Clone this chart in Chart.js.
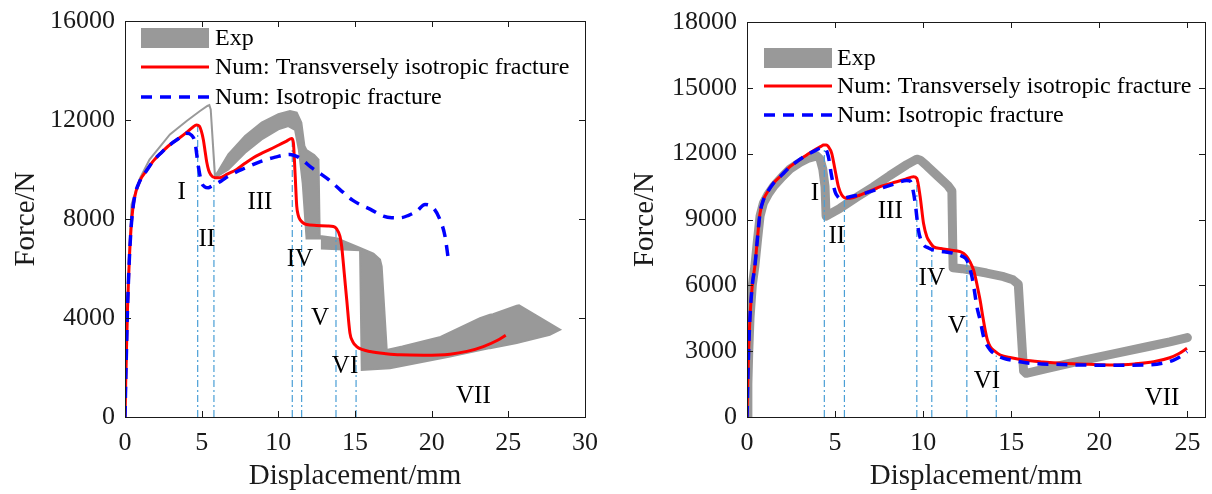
<!DOCTYPE html>
<html>
<head>
<meta charset="utf-8">
<script src="https://cdn.jsdelivr.net/npm/chart.js@4.4.0/dist/chart.umd.min.js"></script>
<style>
  html, body { margin: 0; padding: 0; background: #fff; }
  #wrap { position: relative; width: 1212px; height: 494px; }
  canvas { position: absolute; top: 0; }
</style>
</head>
<body>
<div id="wrap">
  <canvas id="left" width="600" height="494" style="left:0"></canvas>
  <canvas id="right" width="602" height="494" style="left:610px"></canvas>
</div>
<script>
// ---- data: [displacement mm, force N] ----

// left specimen
const leftXTicks = [0, 5, 10, 15, 20, 25, 30];
const leftYTicks = [0, 4000, 8000, 12000, 16000];

// experiment band outline (thin line up to the first drop, then the band)
const leftExp = [
  [0, 0], [0.1, 2800], [0.22, 5500], [0.43, 8600], [0.98, 9650], [1.6, 10400], [2.93, 11420],
  [4.02, 11960], [4.89, 12365], [5.37, 12567], [5.5, 12600], [5.59, 12430], [5.87, 9732],
  [6.09, 9935], [6.74, 10611], [7.83, 11352], [8.91, 11893], [10.0, 12231], [10.76, 12365],
  [11.2, 12300], [11.5, 11900], [11.7, 10950], [11.84, 10783], [12.34, 10581], [12.62, 10400],
  [12.7, 7300], [12.85, 7300], [13.8, 7220], [15.33, 6830], [16.2, 6601], [16.63, 6358],
  [16.74, 6087], [17.07, 2713], [18.09, 2850], [20.58, 3235], [23.15, 3997], [23.8, 4131],
  [24.0, 4150], [25.55, 4495], [25.7, 4515], [28.37, 3524],
  [27.7, 3321], [25.55, 2985], [23.8, 2782], [21.2, 2443], [17.28, 1972], [15.44, 1903],
  [15.33, 6740], [12.84, 6807], [12.84, 7211], [11.84, 7211], [11.59, 9435], [11.34, 10783],
  [11.09, 11600], [10.65, 11757], [10.0, 11623], [8.91, 11218], [7.83, 10680], [6.74, 10003],
  [5.87, 9665], [5.59, 12430], [5.5, 12600], [5.37, 12567], [4.89, 12365], [4.02, 11960],
  [2.93, 11420], [1.6, 10400], [0.98, 9650], [0.43, 8600], [0.22, 5500], [0.1, 2800], [0, 0]
];

const leftTrans = [
  [0, 0], [0.05, 1500], [0.1, 2800], [0.16, 4300], [0.22, 5400], [0.3, 6600], [0.43, 7900],
  [0.6, 8800], [0.98, 9550], [1.4, 9950], [1.85, 10350], [2.4, 10700], [2.93, 11000],
  [3.5, 11250], [4.02, 11500], [4.4, 11700], [4.67, 11800], [4.85, 11750], [4.98, 11550],
  [5.11, 11200], [5.22, 10750], [5.33, 10300], [5.45, 9980], [5.6, 9780], [5.87, 9665],
  [6.2, 9670], [6.7, 9820], [7.28, 10003], [7.8, 10240], [8.37, 10477], [8.9, 10650],
  [9.46, 10813], [10.0, 10980], [10.54, 11150], [10.87, 11250], [10.98, 11085], [11.09, 9870],
  [11.2, 8517], [11.3, 8150], [11.41, 7979], [11.6, 7850], [11.85, 7776], [12.5, 7740],
  [13.2, 7720], [13.59, 7700], [13.8, 7600], [14.02, 7300], [14.13, 6900], [14.3, 5800],
  [14.46, 4739], [14.67, 3390], [14.85, 3050], [15.11, 2847], [15.5, 2720], [15.98, 2645],
  [17.0, 2560], [17.93, 2511], [19.5, 2500], [21.2, 2540], [22.3, 2650], [23.37, 2847],
  [24.3, 3100], [24.83, 3300]
];

const leftIso = [
  [0, 0], [0.05, 1500], [0.1, 2800], [0.16, 4300], [0.22, 5400], [0.3, 6600], [0.43, 7900],
  [0.6, 8800], [0.98, 9550], [1.4, 9950], [1.85, 10350], [2.4, 10700], [2.93, 11000],
  [3.5, 11250], [4.02, 11460], [4.35, 11380], [4.57, 11085], [4.78, 10137], [5.0, 9465],
  [5.2, 9300], [5.43, 9262], [5.65, 9330], [5.87, 9400], [6.3, 9550], [6.74, 9732],
  [7.8, 10050], [8.91, 10340], [9.8, 10500], [10.76, 10611], [11.2, 10530], [11.52, 10409],
  [12.17, 10072], [12.7, 9850], [13.26, 9600], [14.0, 9200], [14.84, 8760], [15.33, 8586],
  [15.98, 8400], [16.85, 8112], [17.4, 8050], [17.93, 8047], [18.5, 8150], [19.02, 8315],
  [19.57, 8586], [20.1, 8452], [20.54, 7979], [20.87, 7302], [21.09, 6359]
];

const leftStageX = [4.74, 5.8, 10.91, 11.52, 13.76, 15.07];
const leftStageTop = [11790, 9650, 11250, 7900, 7600, 2870];
const leftRomanText = ['I', 'II', 'III', 'IV', 'V', 'VI', 'VII'];
const leftRomanX = [3.7, 5.33, 8.8, 11.41, 12.72, 14.35, 22.72];
const leftRomanF = [9060, 7170, 8655, 6360, 3997, 2038, 822];

// right specimen
const rightXTicks = [0, 5, 10, 15, 20, 25];
const rightYTicks = [0, 3000, 6000, 9000, 12000, 15000, 18000];

// experiment centre line (drawn thick)
const rightExp = [
  [0, 0], [0.05, 1500], [0.1, 3000], [0.17, 4500], [0.3, 6000], [0.45, 6900], [0.6, 8100],
  [0.74, 9150], [0.93, 9750], [1.2, 10150], [1.5, 10500], [2.0, 10950], [2.44, 11300],
  [3.0, 11600], [3.5, 11800], [3.96, 11900], [4.15, 11750], [4.3, 11300], [4.43, 10495],
  [4.49, 9150], [5.28, 9510], [6.2, 10000], [7.18, 10495], [8.1, 11000], [9.07, 11500],
  [9.64, 11750], [9.85, 11700], [10.2, 11450], [10.8, 11000], [11.4, 10550], [11.63, 10300],
  [11.7, 6800], [12.2, 6760], [12.67, 6700], [13.6, 6560], [14.57, 6394], [15.1, 6250],
  [15.4, 6050], [15.7, 2100], [15.85, 1990], [17.0, 2200], [18.92, 2560], [20.8, 2880],
  [22.71, 3200], [24.0, 3420], [25.0, 3620]
];

const rightTrans = [
  [0, 0], [0.05, 1800], [0.1, 3200], [0.17, 4571], [0.3, 6000], [0.45, 6900], [0.6, 8200],
  [0.74, 9282], [0.93, 9889], [1.2, 10300], [1.5, 10650], [2.0, 11050], [2.44, 11406],
  [2.9, 11680], [3.39, 11939], [3.9, 12200], [4.2, 12330], [4.34, 12395], [4.5, 12400],
  [4.62, 12318], [4.81, 12017], [5.0, 11256], [5.19, 10495], [5.38, 10117], [5.66, 9966],
  [6.0, 9990], [6.42, 10117], [7.0, 10300], [7.56, 10495], [8.5, 10723], [9.0, 10840],
  [9.45, 10951], [9.64, 10875], [9.83, 10040], [10.02, 8827], [10.21, 8216], [10.4, 7950],
  [10.59, 7760], [11.0, 7680], [11.53, 7610], [12.1, 7533], [12.3, 7450], [12.48, 7305],
  [12.67, 7050], [12.86, 6699], [13.0, 6250], [13.14, 5700], [13.24, 5300], [13.38, 4600],
  [13.52, 3965], [13.65, 3500], [13.81, 3204], [14.1, 2980], [14.38, 2825], [15.0, 2700],
  [15.7, 2597], [16.8, 2510], [17.97, 2445], [19.4, 2400], [20.81, 2370], [22.0, 2420],
  [23.09, 2520], [24.0, 2700], [24.5, 2880], [24.98, 3130]
];

const rightIso = [
  [0, 0], [0.05, 1800], [0.1, 3200], [0.17, 4571], [0.3, 6000], [0.45, 6900], [0.6, 8200],
  [0.74, 9282], [0.93, 9889], [1.2, 10300], [1.5, 10650], [2.0, 11050], [2.44, 11406],
  [2.9, 11680], [3.39, 11939], [3.9, 12150], [4.2, 12250], [4.43, 12245], [4.62, 11862],
  [4.81, 10951], [5.0, 10267], [5.15, 10050], [5.28, 9966], [5.55, 9980], [5.85, 10040],
  [6.5, 10150], [7.5, 10400], [8.3, 10600], [9.07, 10780], [9.25, 10760], [9.36, 10572],
  [9.55, 9738], [9.73, 8521], [9.88, 8050], [10.02, 7838], [10.3, 7700], [10.59, 7610],
  [11.2, 7530], [11.72, 7460], [12.2, 7330], [12.48, 7154], [12.62, 6850], [12.77, 6393],
  [12.92, 5700], [13.05, 5026], [13.24, 4400], [13.43, 3660], [13.6, 3300], [13.81, 3053],
  [14.2, 2800], [14.57, 2673], [15.2, 2560], [16.08, 2445], [17.5, 2400], [18.92, 2370],
  [20.8, 2360], [22.71, 2370], [23.6, 2450], [24.22, 2597], [24.6, 2750], [24.98, 2976]
];

const rightStageX = [4.39, 5.53, 9.64, 10.49, 12.48, 14.15];
const rightStageTop = [12245, 9900, 10800, 7620, 7250, 2800];
const rightRomanText = ['I', 'II', 'III', 'IV', 'V', 'VI', 'VII'];
const rightRomanX = [3.86, 5.1, 8.13, 10.49, 11.91, 13.62, 23.56];
const rightRomanF = [10194, 8216, 9357, 6320, 4115, 1609, 852];

// ---- styling ----
const SERIF = "'Liberation Serif', 'Times New Roman', serif";
const INK = '#1a1a1a';
const GREY = '#999999';
const RED = '#ff0000';
const BLUE = '#0000ff';
const STAGE = '#4a9fd6';

Chart.defaults.font.family = SERIF;
Chart.defaults.color = INK;

const toXY = arr => arr.map(p => ({ x: p[0], y: p[1] }));

// box round the plot with inward ticks on all four sides
const framePlugin = {
  id: 'frame',
  afterDatasetsDraw(chart) {
    const { ctx, chartArea: a } = chart;
    const xs = chart.scales.x, ys = chart.scales.y;
    ctx.save();
    ctx.strokeStyle = INK;
    ctx.lineWidth = 1;
    ctx.strokeRect(a.left + 0.5, a.top + 0.5, a.right - a.left, a.bottom - a.top);
    ctx.beginPath();
    xs.ticks.forEach(t => {
      const p = Math.round(xs.getPixelForValue(t.value)) + 0.5;
      ctx.moveTo(p, a.bottom); ctx.lineTo(p, a.bottom - 6);
      ctx.moveTo(p, a.top); ctx.lineTo(p, a.top + 6);
    });
    ys.ticks.forEach(t => {
      const p = Math.round(ys.getPixelForValue(t.value)) + 0.5;
      ctx.moveTo(a.left, p); ctx.lineTo(a.left + 6, p);
      ctx.moveTo(a.right, p); ctx.lineTo(a.right - 6, p);
    });
    ctx.stroke();
    ctx.restore();
  }
};

// legend drawn inside the plot like matlab's
const paperLegend = {
  id: 'paperLegend',
  afterDatasetsDraw(chart, args, opts) {
    const { ctx, chartArea: a } = chart;
    const items = chart.data.datasets.filter(d => d.label);
    ctx.save();
    ctx.font = '24px ' + SERIF;
    ctx.textBaseline = 'middle';
    ctx.textAlign = 'left';
    items.forEach((d, i) => {
      const y = a.top + opts.rows[i];
      const x0 = a.left + opts.sampleFrom, x1 = a.left + opts.sampleTo;
      if (d.legendBox) {
        ctx.fillStyle = GREY;
        ctx.fillRect(x0, y - 10, x1 - x0, 20);
      } else {
        ctx.strokeStyle = d.borderColor;
        ctx.lineWidth = d.borderWidth;
        ctx.setLineDash(d.borderDash || []);
        ctx.beginPath(); ctx.moveTo(x0, y); ctx.lineTo(x1, y); ctx.stroke();
        ctx.setLineDash([]);
      }
      ctx.fillStyle = '#000';
      ctx.fillText(d.label, a.left + opts.textAt, y + 1);
    });
    ctx.restore();
  }
};

// stage labels I..VII at data coordinates
const stageLabels = {
  id: 'stageLabels',
  afterDatasetsDraw(chart, args, opts) {
    const { ctx } = chart;
    const xs = chart.scales.x, ys = chart.scales.y;
    ctx.save();
    ctx.font = '25px ' + SERIF;
    ctx.fillStyle = '#000';
    ctx.textAlign = 'center';
    ctx.textBaseline = 'middle';
    opts.text.forEach((t, i) => {
      ctx.fillText(t, xs.getPixelForValue(opts.x[i]), ys.getPixelForValue(opts.y[i]));
    });
    ctx.restore();
  }
};

function makeChart(id, p) {
  const stageSets = p.stageX.map((x, i) => ({
    label: '',
    data: [{ x: x, y: 0 }, { x: x, y: p.stageTop[i] }],
    borderColor: STAGE, borderWidth: 1.2, borderDash: [7, 3, 2, 3],
    pointRadius: 0, fill: false, order: 2
  }));
  const expSet = p.expBand
    ? { label: 'Exp', legendBox: true, data: toXY(p.exp), borderColor: GREY, backgroundColor: GREY,
        borderWidth: 2, fill: 'shape', pointRadius: 0, tension: 0, order: 3 }
    : { label: 'Exp', legendBox: true, data: toXY(p.exp), borderColor: GREY, backgroundColor: GREY,
        borderWidth: 9, borderJoinStyle: 'round', borderCapStyle: 'round', fill: false,
        pointRadius: 0, tension: 0, order: 3 };

  return new Chart(document.getElementById(id), {
    type: 'line',
    data: {
      datasets: [
        expSet,
        { label: 'Num: Transversely isotropic fracture', data: toXY(p.trans), borderColor: RED,
          borderWidth: 3, pointRadius: 0, fill: false, cubicInterpolationMode: 'monotone', order: 1 },
        { label: 'Num: Isotropic fracture', data: toXY(p.iso), borderColor: BLUE,
          borderWidth: 3.5, borderDash: [11, 8], pointRadius: 0, fill: false,
          cubicInterpolationMode: 'monotone', order: 0 }
      ].concat(stageSets)
    },
    options: {
      responsive: false,
      animation: false,
      devicePixelRatio: 1,
      layout: { padding: { left: 0, right: p.padRight, top: p.padTop, bottom: 0 } },
      plugins: {
        legend: { display: false },
        tooltip: { enabled: false },
        paperLegend: p.legend,
        stageLabels: { text: p.romanText, x: p.romanX, y: p.romanF }
      },
      scales: {
        x: {
          type: 'linear', min: 0, max: p.xMax,
          grid: { display: false, drawTicks: false }, border: { display: false },
          afterBuildTicks: s => { s.ticks = p.xTicks.map(v => ({ value: v })); },
          afterFit: s => { s.height = 77; s.paddingLeft = 0; s.paddingRight = 0; },
          ticks: { font: { size: 26 }, color: INK, padding: 11, maxRotation: 0, autoSkip: false,
                   callback: v => String(v) },
          title: { display: true, text: 'Displacement/mm', font: { size: 29 }, color: INK,
                   padding: { top: 0, bottom: 0 } }
        },
        y: {
          type: 'linear', min: 0, max: p.yMax,
          grid: { display: false, drawTicks: false }, border: { display: false },
          afterBuildTicks: s => { s.ticks = p.yTicks.map(v => ({ value: v })); },
          afterFit: s => { s.width = p.yWidth; s.paddingTop = 0; s.paddingBottom = 0; },
          ticks: { font: { size: 26 }, color: INK, padding: 10, autoSkip: false,
                   callback: v => String(v) },
          title: { display: true, text: 'Force/N', font: { size: 29 }, color: INK,
                   padding: { top: p.yTitlePad, bottom: 0 } }
        }
      }
    },
    plugins: [framePlugin, paperLegend, stageLabels]
  });
}

makeChart('left', {
  exp: leftExp, expBand: true, trans: leftTrans, iso: leftIso,
  stageX: leftStageX, stageTop: leftStageTop,
  romanText: leftRomanText, romanX: leftRomanX, romanF: leftRomanF,
  xMax: 30, xTicks: leftXTicks, yMax: 16000, yTicks: leftYTicks,
  yWidth: 125, padRight: 15, padTop: 21, yTitlePad: 9,
  legend: { sampleFrom: 16, sampleTo: 84, textAt: 90, rows: [17, 46, 76] }
});

makeChart('right', {
  exp: rightExp, expBand: false, trans: rightTrans, iso: rightIso,
  stageX: rightStageX, stageTop: rightStageTop,
  romanText: rightRomanText, romanX: rightRomanX, romanF: rightRomanF,
  xMax: 26, xTicks: rightXTicks, yMax: 18000, yTicks: rightYTicks,
  yWidth: 137, padRight: 7, padTop: 22, yTitlePad: 18,
  legend: { sampleFrom: 17, sampleTo: 85, textAt: 90, rows: [36, 64, 93] }
});
</script>
</body>
</html>
